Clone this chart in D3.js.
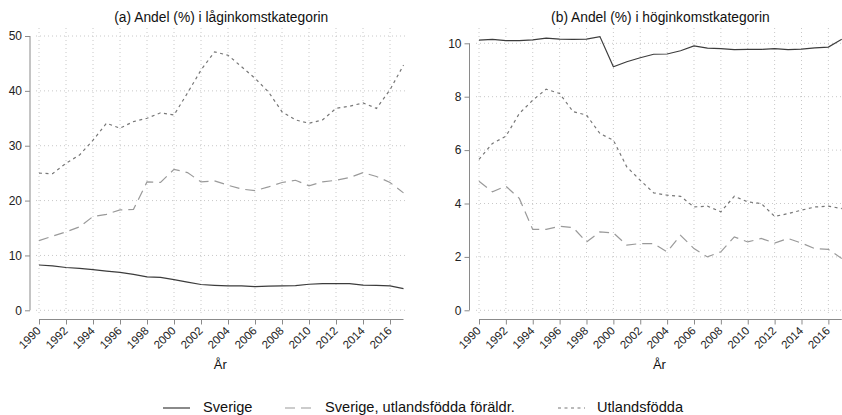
<!DOCTYPE html>
<html>
<head>
<meta charset="utf-8">
<script src="https://cdn.jsdelivr.net/npm/d3@7"></script>
<style>
  body { margin: 0; background: #fff; }
  svg { font-family: "Liberation Sans", Arial, sans-serif; }
</style>
</head>
<body>
<svg id="chart" width="842" height="415"></svg>
<script>
// years on the x axis
const years = d3.range(1990, 2018);
const yearTicks = d3.range(1990, 2017, 2);

// (a) share in low income category
const lowSverige = [8.26, 8.1, 7.8, 7.65, 7.4, 7.15, 6.9, 6.55, 6.1, 6.0, 5.6, 5.15, 4.7, 4.55,
  4.45, 4.45, 4.3, 4.4, 4.45, 4.5, 4.75, 4.85, 4.85, 4.85, 4.6, 4.55, 4.45, 3.95];
const lowForaldr = [12.7, 13.5, 14.3, 15.2, 17.1, 17.5, 18.3, 18.4, 23.4, 23.3, 25.7, 25.1, 23.4, 23.6,
  22.8, 22.1, 21.8, 22.5, 23.3, 23.7, 22.7, 23.4, 23.7, 24.2, 25.1, 24.4, 23.3, 21.4];
const lowUtland = [25.0, 24.9, 26.8, 28.3, 31.0, 34.1, 33.2, 34.4, 35.0, 36.0, 35.6, 39.6, 43.8, 47.1,
  46.5, 44.4, 42.3, 39.8, 36.2, 34.7, 34.1, 34.7, 36.8, 37.2, 37.8, 36.8, 40.2, 44.7];

// (b) share in high income category
const highSverige = [10.12, 10.15, 10.1, 10.1, 10.13, 10.19, 10.16, 10.15, 10.16, 10.25, 9.12, 9.31, 9.46, 9.59,
  9.6, 9.72, 9.9, 9.82, 9.8, 9.76, 9.77, 9.77, 9.8, 9.76, 9.78, 9.83, 9.86, 10.15];
const highForaldr = [4.83, 4.44, 4.65, 4.19, 3.03, 3.03, 3.15, 3.1, 2.56, 2.94, 2.9, 2.44, 2.5, 2.5,
  2.19, 2.81, 2.31, 2.0, 2.19, 2.75, 2.56, 2.69, 2.52, 2.69, 2.52, 2.31, 2.28, 1.94];
const highUtland = [5.65, 6.25, 6.52, 7.37, 7.87, 8.28, 8.12, 7.44, 7.31, 6.62, 6.37, 5.37, 4.87, 4.4,
  4.31, 4.27, 3.87, 3.9, 3.69, 4.27, 4.06, 4.0, 3.52, 3.62, 3.75, 3.87, 3.9, 3.81];

const lowTicks = [0, 10, 20, 30, 40, 50];
const highTicks = [0, 2, 4, 6, 8, 10];

const seriesNames = ["Sverige", "Sverige, utlandsfödda föräldr.", "Utlandsfödda"];
const seriesStyle = [
  {color: "#3c3c3c", dash: null},
  {color: "#9a9a9a", dash: "10,6"},
  {color: "#777777", dash: "3,3.5"}
];

const svg = d3.select("#chart");

function drawPanel(o){
  const g = svg.append("g");
  const x = d3.scaleLinear().domain([1990, 2017]).range([o.x0, o.x1]);
  const y = d3.scaleLinear().domain([0, o.yMax]).range([310.3, o.yTop]);

  // grid
  g.append("g").selectAll("line").data(o.ticks).join("line")
    .attr("x1", o.x0 - 3).attr("x2", o.gridRight)
    .attr("y1", d => y(d)).attr("y2", d => y(d))
    .attr("stroke", "#c8c8c8").attr("stroke-width", 1).attr("stroke-dasharray", "1,3");
  g.append("g").selectAll("line").data(yearTicks).join("line")
    .attr("x1", d => x(d)).attr("x2", d => x(d))
    .attr("y1", 28).attr("y2", 315)
    .attr("stroke", "#c8c8c8").attr("stroke-width", 1).attr("stroke-dasharray", "1,3");

  // y axis
  const yAxis = g.append("g").attr("transform", `translate(${o.yAxisX},0)`)
    .call(d3.axisLeft(y).tickValues(o.ticks).tickSize(5).tickPadding(3));
  yAxis.select(".domain").attr("d", `M0,${y(0)}V${y(o.ticks[o.ticks.length-1])}`);
  yAxis.selectAll(".tick text").style("font-size", "12px");

  // x axis
  const xAxis = g.append("g").attr("transform", "translate(0,319.5)")
    .call(d3.axisBottom(x).tickValues(yearTicks).tickFormat(d3.format("d")).tickSize(5));
  xAxis.select(".domain").attr("d", `M${o.x0},0H${o.x1}`);
  xAxis.selectAll(".tick text")
    .attr("text-anchor", "end")
    .attr("dy", null).attr("y", 0)
    .style("font-size", "11.5px")
    .attr("transform", "translate(2,12) rotate(-45)");

  [yAxis, xAxis].forEach(a => {
    a.selectAll(".domain, .tick line").attr("stroke", "#8a8a8a");
    a.selectAll(".tick text").attr("fill", "#222");
  });

  // lines
  const line = d3.line().x((d, i) => x(years[i])).y(d => y(d));
  o.series.forEach((s, k) => {
    g.append("path").datum(s)
      .attr("fill", "none")
      .attr("stroke", seriesStyle[k].color)
      .attr("stroke-width", 1.2)
      .attr("stroke-dasharray", seriesStyle[k].dash)
      .attr("d", line);
  });

  // title and x label
  g.append("text").attr("x", (o.x0 + o.x1) / 2).attr("y", 22)
    .attr("text-anchor", "middle").style("font-size", "13.8px").attr("fill", "#111")
    .text(o.title);
  g.append("text").attr("x", (o.x0 + o.x1) / 2 - 1).attr("y", 369)
    .attr("text-anchor", "middle").style("font-size", "13px").attr("fill", "#111")
    .text("År");
}

drawPanel({
  x0: 39, x1: 403.5, yAxisX: 30, gridRight: 408,
  yMax: 50, yTop: 36, ticks: lowTicks,
  series: [lowSverige, lowForaldr, lowUtland],
  title: "(a) Andel (%) i låginkomstkategorin"
});
drawPanel({
  x0: 479, x1: 841.8, yAxisX: 469.5, gridRight: 842,
  yMax: 10, yTop: 43.3, ticks: highTicks,
  series: [highSverige, highForaldr, highUtland],
  title: "(b) Andel (%) i höginkomstkategorin"
});

// legend
const legendPos = [{lx: 163, tx: 203}, {lx: 285, tx: 325}, {lx: 558, tx: 597}];
const legend = svg.append("g");
seriesNames.forEach((name, k) => {
  legend.append("line")
    .attr("x1", legendPos[k].lx).attr("x2", legendPos[k].lx + 27)
    .attr("y1", 408).attr("y2", 408)
    .attr("stroke", seriesStyle[k].color).attr("stroke-width", 1.2)
    .attr("stroke-dasharray", seriesStyle[k].dash);
  legend.append("text").attr("x", legendPos[k].tx).attr("y", 412)
    .style("font-size", "14.6px").attr("fill", "#111").text(name);
});
</script>
</body>
</html>
